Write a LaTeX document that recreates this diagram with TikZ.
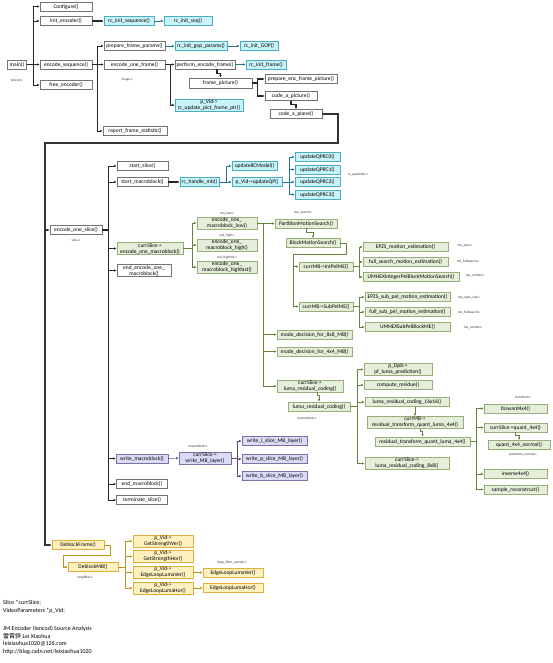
\documentclass[tikz,border=0pt]{standalone}
\usepackage{fontspec}
\setmainfont{Carlito}
\newfontfamily\cjk{Noto Sans CJK SC}
\usetikzlibrary{arrows.meta}
\definecolor{rcF}{RGB}{200,243,249}
\definecolor{rcB}{RGB}{75,172,198}
\definecolor{rcL}{RGB}{35,120,140}
\definecolor{mdF}{RGB}{228,238,216}
\definecolor{mdB}{RGB}{150,175,120}
\definecolor{mdL}{RGB}{100,130,60}
\definecolor{wrF}{RGB}{218,220,246}
\definecolor{wrB}{RGB}{128,110,170}
\definecolor{wrL}{RGB}{90,70,130}
\definecolor{dbF}{RGB}{255,240,190}
\definecolor{dbB}{RGB}{225,175,60}
\definecolor{dbL}{RGB}{190,145,30}

\begin{document}
\begin{tikzpicture}[x=1pt,y=-1pt,>={Latex[length=2.6pt,width=2.2pt]},
  box/.style={draw,line width=0.4pt,minimum height=9pt,inner sep=0.8pt,align=center,font=\fontsize{5.5}{6}\selectfont},
  wd/.style={minimum width=#1pt},
  fn/.style={box,draw=black!55,fill=white},
  cn/.style={box,draw=rcB,fill=rcF},
  gn/.style={box,draw=mdB,fill=mdF},
  pn/.style={box,draw=wrB,fill=wrF},
  yn/.style={box,draw=dbB,fill=dbF},
  lab/.style={font=\fontsize{3.5}{4}\selectfont,text=black!80,inner sep=0},
  kl/.style={->,line width=0.5pt,black!85},
  bk/.style={->,line width=1.3pt,black!85},
  cl/.style={->,line width=0.5pt,rcL},
  gl/.style={->,line width=0.5pt,mdL},
  pl/.style={->,line width=0.5pt,wrL},
  yl/.style={->,line width=0.5pt,dbL}]
\useasboundingbox (0,0) rectangle (553,663);

% main / encode_sequence
\node[fn,wd=19] (main) at (17,64.5) {main()};
\node[lab] at (17,80) {lencod.c};
\node[fn,wd=52] (cfg) at (66,6.5) {Configure()};
\node[fn,wd=52] (inienc) at (66,21) {init\_encoder()};
\node[fn,wd=52] (encseq) at (66,64.5) {encode\_sequence()};
\node[fn,wd=52] (freeenc) at (66,85) {free\_encoder()};
\node[cn,wd=50] (rcseq) at (129,21) {rc\_init\_sequence()};
\node[cn,wd=48] (rcseqq) at (188,21) {rc\_init\_seq()};
\node[fn,wd=61] (prepfp) at (134.5,46) {prepare\_frame\_params()};
\node[fn,wd=61] (encof) at (134.5,64.5) {encode\_one\_frame()};
\node[lab] at (127,80) {image.c};
\node[fn,wd=64] (report) at (135,131) {report\_frame\_statistic()};
\node[cn,wd=52] (rcgop) at (201,46) {rc\_init\_gop\_params()};
\node[cn,wd=38] (rcgopp) at (259,46) {rc\_init\_GOP()};
\node[fn,wd=60] (perf) at (205,64.5) {perform\_encode\_frame()};
\node[cn,wd=40] (rcfr) at (266,64.5) {rc\_init\_frame()};
\node[cn,wd=68] (rcupd) at (209,105) {p\_Vid->\\rc\_update\_pict\_frame\_ptr()};
\node[fn,wd=63,minimum height=10pt] (fpic) at (220.5,83) {frame\_picture()};
\node[fn,wd=72] (prepenc) at (301,79) {prepare\_enc\_frame\_picture()};
\node[fn,wd=52] (codepic) at (291,96) {code\_a\_picture()};
\node[fn,wd=52] (codeplane) at (296,114) {code\_a\_plane()};

\draw[bk] (main) -- (encseq);
\draw[kl] (main.east) -- ++(6.5,0) |- (cfg.west);
\draw[kl] (main.east) -- ++(6.5,0) |- (inienc.west);
\draw[kl] (main.east) -- ++(6.5,0) |- (freeenc.west);
\draw[bk] (inienc) -- (rcseq);
\draw[cl] (rcseq) -- (rcseqq);
\draw[bk] (encseq) -- (encof);
\draw[kl] (encseq.east) -- ++(5.5,0) |- (prepfp.west);
\draw[kl] (encseq.east) -- ++(5.5,0) |- (report.west);
\draw[cl] (prepfp) -- (rcgop);
\draw[cl] (rcgop) -- (rcgopp);
\draw[bk] (encof) -- (perf);
\draw[kl] (encof.east) -- ++(5,0) |- (rcupd.west);
\draw[cl] (perf) -- (rcfr);
\draw[bk] ([xshift=12pt]perf.south) -- ++(0,4) -| (fpic.north);
\draw[bk] (fpic.east) -- ++(5,0) |- (prepenc.west);
\draw[bk] (fpic.east) -- ++(5,0) |- (codepic.west);
\draw[bk] (codepic.south) -- ++(0,4) -| (codeplane.north);

% slice level
\node[fn,wd=52] (eos) at (76,230) {encode\_one\_slice()};
\node[lab] at (76,240) {slice.c};
\node[fn,wd=51] (sslice) at (142.5,166) {start\_slice()};
\node[fn,wd=51] (smb) at (142.5,182) {start\_macroblock()};
\node[gn,wd=66] (eomb) at (150,248.5) {currSlice->\\encode\_one\_macroblock()};
\node[fn,wd=54] (endeomb) at (144,270.5) {end\_encode\_one\_\\macroblock()};
\node[pn,wd=52] (wmb) at (142,458.5) {write\_macroblock()};
\node[fn,wd=51] (endmb) at (142,484) {end\_macroblock()};
\node[fn,wd=51] (termsl) at (142,500) {terminate\_slice()};
\node[yn,wd=52] (dbf) at (78,545) {DeblockFrame()};

\coordinate (k1) at (338,143);
\coordinate (k2) at (45,143);
\draw[->,line width=1.8pt,black!80] (codeplane.east) -| (k1) -- (k2) |- (dbf.west);
\draw[->,line width=1.8pt,black!80] (k2) |- (eos.west);
\draw[kl] (eos.east) -- ++(6,0) |- (sslice.west);
\draw[kl] (eos.east) -- ++(6,0) |- (smb.west);
\draw[bk] (eos.east) -- ++(6,0) |- (eomb.west);
\draw[kl] (eos.east) -- ++(6,0) |- (endeomb.west);
\draw[kl] (eos.east) -- ++(6,0) |- (wmb.west);
\draw[kl] (eos.east) -- ++(6,0) |- (endmb.west);
\draw[kl] (eos.east) -- ++(6,0) |- (termsl.west);
\draw[line width=1.3pt,black!85] (eos.east) -- ++(6,0);

% rate control
\node[cn,wd=39] (rchmb) at (199.5,182) {rc\_handle\_mb()};
\node[cn,wd=45] (upRC) at (254.5,166) {updateRCModel()};
\node[cn,wd=50] (upQP) at (257,182) {p\_Vid->updateQP()};
\node[cn,wd=45] (qp0) at (317.5,157) {updateQPRC0()};
\node[cn,wd=45] (qp1) at (317.5,169.5) {updateQPRC1()};
\node[cn,wd=45] (qp2) at (317.5,182) {updateQPRC2()};
\node[cn,wd=45] (qp3) at (317.5,194.5) {updateQPRC3()};
\node[lab] at (358,175) {rc\_quadratic.c};
\draw[bk] (smb) -- (rchmb);
\draw[cl] (rchmb.east) -- ++(7,0) |- (upRC.west);
\draw[cl] (rchmb) -- (upQP);
\draw[cl] (upQP.east) -- ++(7,0) |- (qp0.west);
\draw[cl] (upQP.east) -- ++(7,0) |- (qp1.west);
\draw[cl] (upQP) -- (qp2);
\draw[cl] (upQP.east) -- ++(7,0) |- (qp3.west);

% mode decision
\node[gn,wd=60] (low) at (227,223) {encode\_one\_\\macroblock\_low()};
\node[lab] at (227,214) {md\_low.c};
\node[gn,wd=60] (high) at (227,245) {encode\_one\_\\macroblock\_high()};
\node[lab] at (227,236) {md\_high.c};
\node[gn,wd=60] (hfast) at (227,267) {encode\_one\_\\macroblock\_highfast()};
\node[lab] at (227,258) {md\_highfast.c};
\draw[gl] (eomb.east) -- ++(9,0) |- (low.west);
\draw[gl] (eomb.east) -- ++(9,0) |- (high.west);
\draw[gl] (eomb.east) -- ++(9,0) |- (hfast.west);

% motion estimation
\node[gn,wd=62] (pms) at (306,223.5) {PartitionMotionSearch()};
\node[lab] at (303,213) {me\_search.c};
\node[gn,wd=54] (bms) at (313,243) {BlockMotionSearch()};
\node[gn,wd=54] (intme) at (326,266.5) {currMB->IntPelME()};
\node[gn,wd=54] (subme) at (326,306.5) {currMB->SubPelME()};
\node[gn,wd=85] (epzs) at (405.5,247) {EPZS\_motion\_estimation()};
\node[gn,wd=85] (fulls) at (405.5,262) {full\_search\_motion\_estimation()};
\node[gn,wd=96] (umhi) at (411,277) {UMHEXIntegerPelBlockMotionSearch()};
\node[gn,wd=85] (epzss) at (407.5,297) {EPZS\_sub\_pel\_motion\_estimation()};
\node[gn,wd=85] (fullss) at (407.5,312) {full\_sub\_pel\_motion\_estimation()};
\node[gn,wd=85] (umhs) at (407.5,327) {UMHEXSubPelBlockME()};
\node[lab] at (465,246) {me\_epzs.c};
\node[lab] at (468,262) {me\_fullsearch.c};
\node[lab] at (475,276) {me\_umhex.c};
\node[lab] at (469,298) {me\_epzs\_sub.c};
\node[lab] at (469,313) {me\_fullsearch.c};
\node[lab] at (473,328) {me\_umhex.c};
\node[gn,wd=75] (md8) at (314.5,334.5) {mode\_decision\_for\_8x8\_MB()};
\node[gn,wd=75] (md4) at (314.5,351.5) {mode\_decision\_for\_4x4\_MB()};
\node[gn,wd=66] (crlrc) at (310,386) {currSlice->\\luma\_residual\_coding()};

\draw[gl] (low.east) -- ++(6,0) |- (pms.west);
\draw[gl] (low.east) -- ++(6,0) |- (md8.west);
\draw[gl] (low.east) -- ++(6,0) |- (md4.west);
\draw[gl] (low.east) -- ++(6,0) |- (crlrc.west);
\draw[gl] (pms.south) -- ++(0,4) -| (bms.north);
\coordinate (b1) at (346,254);
\coordinate (b2) at (293,254);
\draw[gl] (bms.east) -| (b1) -- (b2) |- (subme.west);
\draw[gl] (b2) |- (intme.west);
\draw[gl] (intme.east) -- ++(6,0) |- (epzs.west);
\draw[gl] (intme.east) -- ++(6,0) |- (fulls.west);
\draw[gl] (intme.east) -- ++(6,0) |- (umhi.west);
\draw[gl] (subme.east) -- ++(6,0) |- (epzss.west);
\draw[gl] (subme.east) -- ++(6,0) |- (fullss.west);
\draw[gl] (subme.east) -- ++(6,0) |- (umhs.west);

% residual coding
\node[gn,wd=62] (lrc) at (319,406.5) {luma\_residual\_coding()};
\node[lab] at (307,418) {macroblock.c};
\node[gn,wd=68] (pfl) at (398,369.5) {p\_Dpb->\\pf\_luma\_prediction()};
\node[gn,wd=68] (cres) at (398,385) {compute\_residue()};
\node[gn,wd=84] (l16) at (407,402) {luma\_residual\_coding\_16x16()};
\node[gn,wd=96] (crtq) at (415,422.5) {currMB->\\residual\_transform\_quant\_luma\_4x4()};
\node[gn,wd=95] (rtq) at (422.5,441.5) {residual\_transform\_quant\_luma\_4x4()};
\node[gn,wd=84] (l8) at (407,463.5) {currSlice->\\luma\_residual\_coding\_8x8()};
\draw[gl] ([xshift=7pt]crlrc.south) -- ++(0,3) -| (lrc.north);
\draw[gl] (lrc.east) -- ++(7,0) |- (pfl.west);
\draw[gl] (lrc.east) -- ++(7,0) |- (cres.west);
\draw[gl] (lrc.east) -- ++(7,0) |- (l16.west);
\draw[gl] (lrc.east) -- ++(7,0) |- (l8.west);
\draw[gl] (l16.south -| crtq.north) -- (crtq.north);
\draw[gl] ([xshift=5pt]crtq.south) -- ++(0,3) -| (rtq.north);

% transform
\node[gn,wd=63] (fwd) at (515.5,408.5) {forward4x4()};
\node[lab] at (523,397) {transform.c};
\node[gn,wd=63] (q44) at (515.5,427.5) {currSlice->quant\_4x4()};
\node[gn,wd=62] (qn) at (519,445) {quant\_4x4\_normal()};
\node[lab] at (523,455) {quant4x4\_normal.c};
\node[gn,wd=63] (inv) at (515.5,474) {inverse4x4()};
\node[gn,wd=63] (srec) at (515.5,489.5) {sample\_reconstruct()};
\draw[gl] (rtq.east) -- ++(6,0) |- (fwd.west);
\draw[gl] (rtq.east) -- ++(6,0) |- (q44.west);
\draw[gl] (rtq.east) -- ++(6,0) |- (inv.west);
\draw[gl] (rtq.east) -- ++(6,0) |- (srec.west);
\draw[gl] (q44.south) -- ++(0,3) -| (qn.north);

% write macroblock
\node[pn,wd=52] (wmbl) at (205,458) {currSlice->\\write\_MB\_layer()};
\node[lab] at (198,446) {macroblock.c};
\node[pn,wd=65] (wi) at (274.5,441) {write\_i\_slice\_MB\_layer()};
\node[pn,wd=65] (wp) at (274.5,459) {write\_p\_slice\_MB\_layer()};
\node[pn,wd=65] (wb) at (274.5,476) {write\_b\_slice\_MB\_layer()};
\draw[pl] (wmb) -- (wmbl);
\draw[pl] (wmbl.east) -- ++(6,0) |- (wi.west);
\draw[pl] (wmbl.east) -- ++(6,0) |- (wp.west);
\draw[pl] (wmbl.east) -- ++(6,0) |- (wb.west);

% deblocking
\node[yn,wd=50] (dbmb) at (93,567) {DeblockMB()};
\node[lab] at (85,578) {loopfilter.c};
\node[yn,wd=60] (gsv) at (163,541) {p\_Vid->\\GetStrengthVer()};
\node[yn,wd=60] (gsh) at (163,556.5) {p\_Vid->\\GetStrengthHor()};
\node[yn,wd=60] (elv) at (163,572.5) {p\_Vid->\\EdgeLoopLumaVer()};
\node[yn,wd=60] (elh) at (163,588) {p\_Vid->\\EdgeLoopLumaHor()};
\node[yn,wd=60] (elvv) at (233,572.5) {EdgeLoopLumaVer()};
\node[yn,wd=60] (elhh) at (233,588) {EdgeLoopLumaHor()};
\node[lab] at (232,563) {loop\_filter\_normal.c};
\coordinate (d1) at (110,555);
\coordinate (d2) at (63,555);
\draw[yl] (dbf.east) -| (d1) -- (d2) |- (dbmb.west);
\draw[yl] (dbmb.east) -- ++(7,0) |- (gsv.west);
\draw[yl] (dbmb.east) -- ++(7,0) |- (gsh.west);
\draw[yl] (dbmb.east) -- ++(7,0) |- (elv.west);
\draw[yl] (dbmb.east) -- ++(7,0) |- (elh.west);
\draw[yl] (elv) -- (elvv);
\draw[yl] (elh) -- (elhh);

% notes
\node[anchor=north west,align=left,inner sep=0,font=\fontsize{6}{7.7}\selectfont] (vars) at (3,600)
  {Slice *currSlice;\\VideoParameters *p\_Vid;};
\node[anchor=north west,align=left,inner sep=0,font=\fontsize{6}{7.6}\selectfont] (info) at (3,626)
  {JM Encoder (lencod) Source Analysis\\{\cjk 雷霄骅} Lei Xiaohua\\leixiaohua1020@126.com\\http://blog.csdn.net/leixiaohua1020};
\end{tikzpicture}
\end{document}
